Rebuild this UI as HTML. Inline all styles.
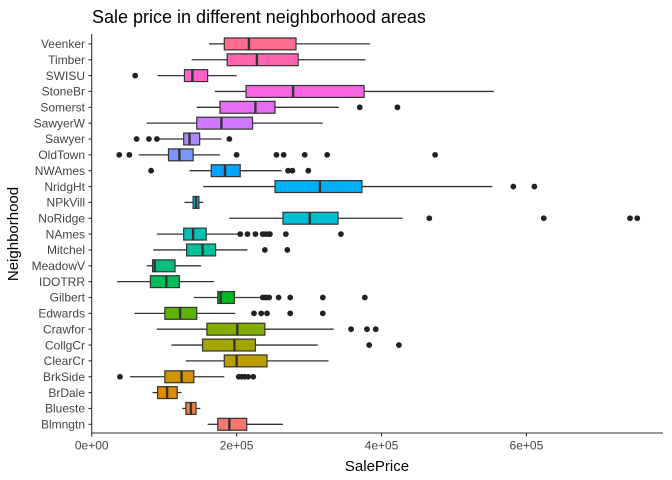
<!DOCTYPE html>
<html><head><meta charset="utf-8"><style>
html,body{margin:0;padding:0;background:#fff;}
svg{display:block;font-family:"Liberation Sans",Arial,sans-serif;}
</style></head><body>
<svg id="chart" width="672" height="480">
<text x="92" y="23" font-size="18" fill="#000">Sale price in different neighborhood areas</text>
<text x="377" y="471" font-size="15" text-anchor="middle" fill="#000">SalePrice</text>
<text transform="translate(18,234) rotate(-90)" font-size="15" text-anchor="middle" fill="#000">Neighborhood</text>
<g id="plot"></g>
</svg>
<script>
const categories=["Blmngtn","Blueste","BrDale","BrkSide","ClearCr","CollgCr","Crawfor","Edwards","Gilbert","IDOTRR","MeadowV","Mitchel","NAmes","NoRidge","NPkVill","NridgHt","NWAmes","OldTown","Sawyer","SawyerW","Somerst","StoneBr","SWISU","Timber","Veenker"];
const whiskerLow=[160000,125000,84000,53000,130000,110000,90000,59000,141000,35000,76000,85000,90000,190000,128000,154000,135000,65000,91000,76000,145000,170000,91000,138000,162000];
const q1=[174000,130000,91000,101000,183000,153000,159000,101000,174000,81000,84000,131000,127000,264000,140000,253000,165000,106000,127000,145000,177000,213000,128000,187000,183000];
const medians=[190000,137000,104000,124000,200000,197000,201000,122000,178000,103000,87000,153000,140000,301000,144000,315000,184000,121000,135000,179000,226000,278000,139000,228000,217000];
const q3=[214000,144000,118000,141000,242000,226000,239000,145000,197000,121000,115000,171000,158000,340000,148000,373000,205000,140000,149000,222000,253000,376000,160000,285000,282000];
const whiskerHigh=[264000,150000,124000,183000,327000,312000,334000,198000,232000,169000,151000,215000,202000,429000,154000,553000,262000,177000,179000,319000,341000,555000,200000,378000,384000];
const outliers=[[],[],[],[39000,203000,207000,211000,216000,223000],[],[383000,424000],[358000,380000,392000],[224000,234000,242000,274000,319000],[236000,239000,242000,245000,258000,274000,319000,377000],[],[],[239000,270000],[205000,215000,226000,236000,240000,244000,246000,268000,344000],[466000,624000,743000,753000],[],[582000,611000],[82000,271000,277000,299000],[38000,52000,200000,255000,265000,294000,325000,474000],[62000,79000,90000,190000],[],[370000,422000],[],[60000],[],[]];
const xTicks=[0,200000,400000,600000];
const xTickLabels=["0e+00","2e+05","4e+05","6e+05"];

const ns="http://www.w3.org/2000/svg";
const plot=document.getElementById('plot');
const X0=91.7,PXPER=144.9/200000;
const xs=v=>X0+v*PXPER;
const ys=i=>424.3-i*15.85;
const BH=11.9;
function hcl(h,c,l){const r=h*Math.PI/180;const u=c*Math.cos(r),v=c*Math.sin(r);
const Xn=95.047,Yn=100,Zn=108.883;const d=Xn+15*Yn+3*Zn;const un=4*Xn/d,vn=9*Yn/d;
const Y=Yn*Math.pow((l+16)/116,3);const up=u/(13*l)+un,vp=v/(13*l)+vn;
const X=Y*9*up/(4*vp),Z=Y*(12-3*up-20*vp)/(4*vp);
const x=X/100,y=Y/100,z=Z/100;
let R=3.2404542*x-1.5371385*y-0.4985314*z,G=-0.9692660*x+1.8760108*y+0.0415560*z,B=0.0556434*x-0.2040259*y+1.0572252*z;
const g=t=>{t=t<=0.0031308?12.92*t:1.055*Math.pow(t,1/2.4)-0.055;return Math.round(Math.max(0,Math.min(1,t))*255);};
return `rgb(${g(R)},${g(G)},${g(B)})`;}
function mk(tag,attrs){const e=document.createElementNS(ns,tag);for(const k in attrs)e.setAttribute(k,attrs[k]);plot.appendChild(e);return e;}
const n=categories.length;
categories.forEach((c,i)=>{
  const y=ys(i);const col=hcl(15+360*i/n,100,65);
  const w1=mk('line',{x1:xs(whiskerLow[i]),x2:xs(q1[i]),y1:y,y2:y,stroke:'#333',"stroke-width":1.3});
  
  
  const w2=mk('line',{x1:xs(q3[i]),x2:xs(whiskerHigh[i]),y1:y,y2:y,stroke:'#333',"stroke-width":1.3});
  
  
  const b=mk('rect',{x:xs(q1[i]),y:y-BH/2,width:xs(q3[i])-xs(q1[i]),height:BH,fill:col,stroke:'#333',"stroke-width":1.2});
  
  
  const m=mk('line',{x1:xs(medians[i]),x2:xs(medians[i]),y1:y-BH/2,y2:y+BH/2,stroke:'#333',"stroke-width":2.4});
  
  
  outliers[i].forEach(v=>{const p=mk('circle',{cx:xs(v),cy:y,r:2.9,fill:'#222'});
    
    });
  const t=mk('line',{x1:88.5,x2:91.7,y1:y,y2:y,stroke:'#333',"stroke-width":1.1});
  
  
  const l=mk('text',{x:85,y:y+4.2,"font-size":12,"text-anchor":"end",fill:'#444'});
  l.textContent=c;
  
  
});
xTicks.forEach((v,i)=>{
  const t=mk('line',{x1:xs(v),x2:xs(v),y1:433,y2:436.5,stroke:'#333',"stroke-width":1.1});
  
  
  const l=mk('text',{x:xs(v),y:449.5,"font-size":12,"text-anchor":"middle",fill:'#444'});
  l.textContent=xTickLabels[i];
  
  
});
const ax=mk('line',{x1:91.7,x2:663,y1:433,y2:433,stroke:'#333',"stroke-width":1.1});


const ay=mk('line',{x1:91.7,x2:91.7,y1:34,y2:433,stroke:'#333',"stroke-width":1.1});


</script>
</body></html>
